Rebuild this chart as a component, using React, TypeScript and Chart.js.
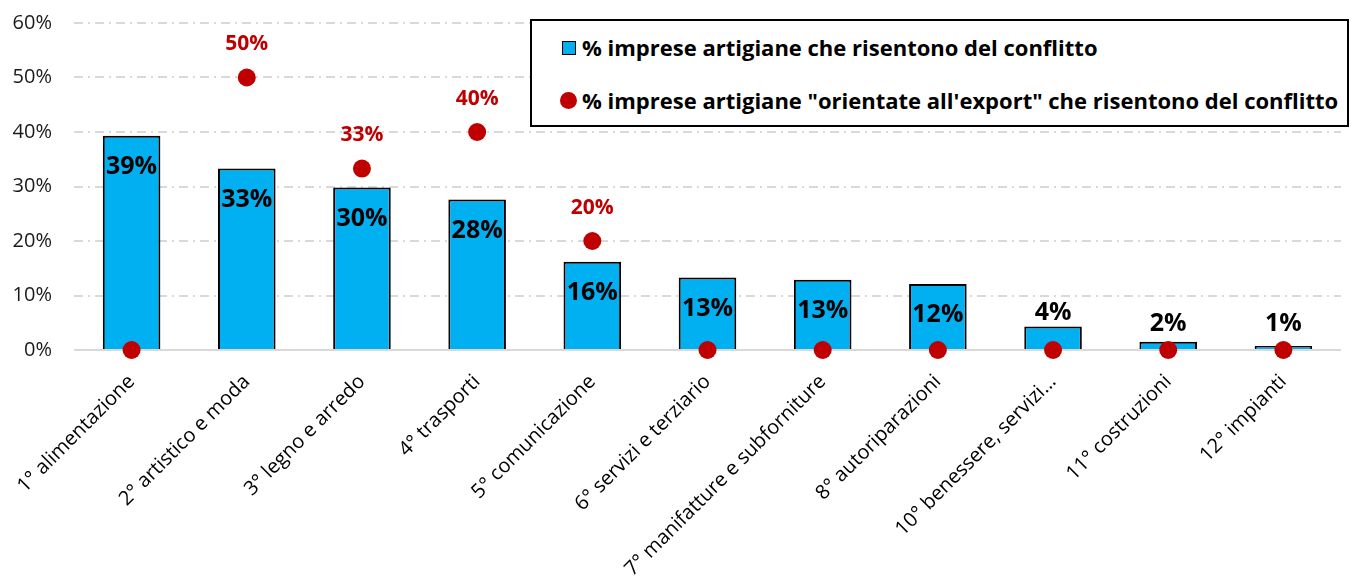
import React, { useEffect, useRef } from "react";
import { Chart, registerables } from "chart.js";

Chart.register(...registerables);

const categories = [
  "1° alimentazione",
  "2° artistico e moda",
  "3° legno e arredo",
  "4° trasporti",
  "5° comunicazione",
  "6° servizi e terziario",
  "7° manifatture e subforniture",
  "8° autoriparazioni",
  "10° benessere, servizi...",
  "11° costruzioni",
  "12° impianti",
];
const barValues = [39.3, 33.3, 29.8, 27.6, 16.2, 13.3, 12.9, 12.1, 4.3, 1.5, 0.75];
const barLabels = ["39%", "33%", "30%", "28%", "16%", "13%", "13%", "12%", "4%", "2%", "1%"];
const exportValues = [0, 50, 33.3, 40, 20, 0, 0, 0, 0, 0, 0];
const exportLabels = ["", "50%", "33%", "40%", "20%", "", "", "", "", "", ""];
const yTicks = [0, 10, 20, 30, 40, 50, 60];
const seriesNames = [
  "% imprese artigiane che risentono del conflitto",
  "% imprese artigiane \"orientate all'export\" che risentono del conflitto",
];

const FONT = "'Open Sans', sans-serif";
const BLUE = "#00B0F0";
const RED = "#C00000";

const labelPlugin = {
  id: "valueLabels",
  afterDatasetsDraw(chart: any) {
    const ctx = chart.ctx;
    const base = chart.scales.y.getPixelForValue(0);
    ctx.save();
    ctx.textAlign = "center";
    const bars = chart.getDatasetMeta(0).data;
    bars.forEach((el: any, i: number) => {
      const { x, y } = el.getProps(["x", "y"], true);
      ctx.fillStyle = "#000";
      ctx.font = `bold 25px ${FONT}`;
      if (barValues[i] >= 10) {
        ctx.textBaseline = "middle";
        ctx.fillText(barLabels[i], x, y + 31);
      } else {
        ctx.textBaseline = "alphabetic";
        ctx.fillText(barLabels[i], x, Math.min(y - 7, base - 19));
      }
    });
    const pts = chart.getDatasetMeta(1).data;
    pts.forEach((el: any, i: number) => {
      if (!exportLabels[i]) return;
      const { x, y } = el.getProps(["x", "y"], true);
      ctx.fillStyle = RED;
      ctx.font = `bold 21px ${FONT}`;
      ctx.textBaseline = "middle";
      ctx.fillText(exportLabels[i], x, y - 33);
    });
    ctx.restore();
  },
};

export default function App() {
  const ref = useRef<HTMLCanvasElement>(null);
  useEffect(() => {
    if (!ref.current) return;
    const chart = new Chart(ref.current, {
      type: "bar",
      data: {
        labels: categories,
        datasets: [
          {
            type: "bar",
            label: seriesNames[0],
            data: barValues,
            backgroundColor: BLUE,
            borderColor: "#000",
            borderWidth: 2,
            barPercentage: 0.5,
            categoryPercentage: 1,
            order: 2,
          } as any,
          {
            type: "line",
            label: seriesNames[1],
            data: exportValues,
            showLine: false,
            pointRadius: 9,
            pointHoverRadius: 9,
            pointBackgroundColor: RED,
            pointBorderWidth: 0,
            backgroundColor: RED,
            clip: false,
            order: 1,
          } as any,
        ],
      },
      options: {
        animation: false,
        responsive: false,
        events: [],
        layout: { padding: { top: 23, right: 10, left: 0, bottom: 0 } },
        plugins: { legend: { display: false }, tooltip: { enabled: false } },
        scales: {
          x: {
            grid: { display: false, drawTicks: false },
            border: { display: false },
            ticks: {
              autoSkip: false,
              maxRotation: 45,
              minRotation: 45,
              padding: 20,
              color: "#000",
              font: { family: FONT, size: 20 },
            },
            afterFit(scale: any) {
              scale.height = 228;
              scale.paddingLeft = 0;
              scale.paddingRight = 0;
            },
          },
          y: {
            min: 0,
            max: 60,
            afterBuildTicks(scale: any) {
              scale.ticks = yTicks.map((v) => ({ value: v }));
            },
            grid: {
              color: "#d9d9d9",
              lineWidth: 2,
              drawTicks: false,
            },
            border: {
              display: false,
              dash: (c: any) => (c.tick && c.tick.value === 0 ? [] : [9, 5, 2, 5]),
            },
            ticks: {
              padding: 22,
              color: "#1a1a1a",
              font: { family: FONT, size: 20 },
              callback: (v: any) => v + "%",
            },
            afterFit(scale: any) {
              scale.width = 74;
              scale.paddingTop = 0;
              scale.paddingBottom = 0;
            },
          },
        },
      },
      plugins: [labelPlugin],
    });
    return () => chart.destroy();
  }, []);

  const textStyle: React.CSSProperties = {
    position: "absolute",
    left: 50,
    fontFamily: FONT,
    fontWeight: "bold",
    fontSize: 22,
    color: "#000",
    whiteSpace: "nowrap",
    lineHeight: "28px",
  };

  return (
    <div style={{ position: "fixed", left: 0, top: 0, width: 1351, height: 578, background: "#fff" }}>
      <canvas ref={ref} width={1351} height={578} style={{ display: "block" }} />
      <div
        style={{
          position: "absolute",
          left: 530,
          top: 19,
          width: 815,
          height: 104,
          border: "2px solid #000",
          background: "#fff",
        }}
      >
        <div
          style={{
            position: "absolute",
            left: 30,
            top: 20,
            width: 12,
            height: 12,
            background: BLUE,
            border: "1.5px solid #000",
          }}
        />
        <div style={{ ...textStyle, top: 12 }}>{seriesNames[0]}</div>
        <div
          style={{
            position: "absolute",
            left: 28,
            top: 71,
            width: 17,
            height: 17,
            borderRadius: "50%",
            background: RED,
          }}
        />
        <div style={{ ...textStyle, top: 65 }}>{seriesNames[1]}</div>
      </div>
    </div>
  );
}
